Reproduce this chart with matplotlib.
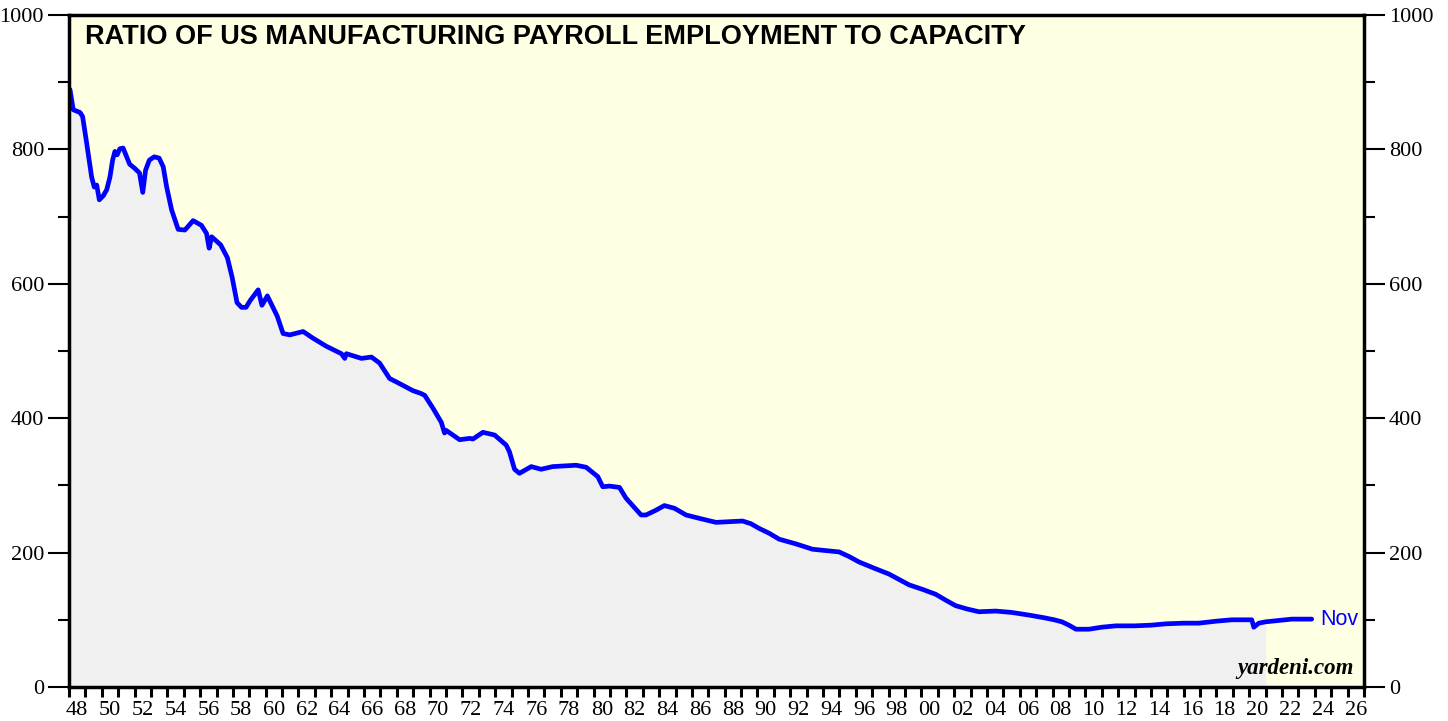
import numpy as np
import matplotlib.pyplot as plt
from matplotlib.ticker import FixedLocator, NullFormatter, FixedFormatter

# ratio of manufacturing payroll employment to capacity
years = [1948.06, 1948.26, 1948.67, 1948.83, 1949.08, 1949.38, 1949.54, 1949.69, 1949.85,
         1950.09, 1950.30, 1950.50, 1950.66, 1950.80, 1950.94, 1951.10, 1951.30, 1951.70,
         1952.00, 1952.30, 1952.50, 1952.67, 1952.90, 1953.20, 1953.50, 1953.75, 1953.95,
         1954.26, 1954.66, 1955.07, 1955.57, 1956.08, 1956.39, 1956.55, 1956.70, 1957.25,
         1957.66, 1957.95, 1958.25, 1958.52, 1958.80, 1959.05, 1959.54, 1959.77, 1960.10,
         1960.70, 1961.06, 1961.47, 1962.28, 1962.89, 1963.70, 1964.62, 1964.82, 1964.92,
         1965.84, 1966.45, 1966.95, 1967.56, 1967.97, 1968.98, 1969.45, 1969.70, 1970.20,
         1970.71, 1970.91, 1971.00, 1971.83, 1972.44, 1972.64, 1973.25, 1973.96, 1974.67,
         1974.87, 1975.18, 1975.48, 1976.20, 1976.80, 1977.51, 1978.94, 1979.55, 1980.26,
         1980.56, 1980.97, 1981.58, 1981.98, 1982.90, 1983.20, 1983.80, 1984.32, 1984.93,
         1985.64, 1986.45, 1987.47, 1988.28, 1989.09, 1989.60, 1990.10, 1990.70, 1991.32,
         1992.34, 1993.36, 1994.20, 1994.98, 1995.60, 1996.20, 1997.10, 1998.03, 1999.25,
         2000.10, 2000.87, 2001.50, 2002.09, 2002.80, 2003.51, 2004.53, 2005.50, 2006.56,
         2007.50, 2008.10, 2008.57, 2009.00, 2009.43, 2010.22, 2011.00, 2011.86, 2013.00,
         2014.00, 2014.91, 2016.00, 2016.92, 2018.00, 2018.93, 2020.15, 2020.28, 2020.58,
         2021.00, 2021.80, 2022.59, 2023.81]
ratio = [889, 859, 855, 849, 809, 759, 744, 747, 725,
         731, 740, 759, 784, 797, 792, 801, 802, 778,
         772, 765, 736, 769, 784, 789, 787, 774, 745,
         710, 681, 680, 694, 687, 675, 653, 670, 658,
         639, 610, 572, 565, 565, 575, 591, 568, 582,
         552, 526, 524, 529, 519, 507, 496, 489, 496,
         489, 491, 482, 459, 454, 441, 437, 434, 415,
         394, 378, 382, 368, 370, 369, 379, 375, 360,
         350, 324, 318, 328, 324, 328, 330, 327, 313,
         298, 299, 297, 281, 256, 256, 263, 270, 266,
         256, 251, 245, 246, 247, 243, 236, 229, 220,
         213, 205, 203, 201, 194, 186, 177, 168, 152,
         145, 138, 129, 121, 116, 112, 113, 111, 107,
         103, 100, 97, 92, 86, 86, 89, 91, 91,
         92, 94, 95, 95, 98, 100, 100, 89, 95,
         97, 99, 101, 101]

fill_end = 2021.0  # grey shading stops here
year_ticks = list(range(1948, 2028))
label_years = list(range(1948, 2027, 2))
year_labels = ['%02d' % (y % 100) for y in label_years]
y_major = [0, 200, 400, 600, 800, 1000]

years = np.array(years)
ratio = np.array(ratio)

fig = plt.figure(figsize=(14.48, 7.21), dpi=100)
ax = fig.add_axes([69/1448, 1 - 687/721, (1364 - 69)/1448, (687 - 15)/721])
ax.set_facecolor('#FFFFE3')

ax.fill_between(years, 0, ratio, where=years <= fill_end, color='#F0F0F0', lw=0, zorder=1)
ax.plot(years, ratio, color='#0000FF', lw=3.4, zorder=3, solid_joinstyle='round',
        solid_capstyle='round')
ax.text(years[-1] + 0.5, ratio[-1], 'Nov', color='#0000FF', fontsize=15.5,
        family='Liberation Sans', va='center', ha='left')

ax.set_xlim(1948, 2027)
ax.set_ylim(0, 1000)

# x axis: ticks every year, labels centred in the year
ax.xaxis.set_major_locator(FixedLocator(year_ticks))
ax.xaxis.set_major_formatter(NullFormatter())
ax.xaxis.set_minor_locator(FixedLocator([y + 0.5 for y in label_years]))
ax.xaxis.set_minor_formatter(FixedFormatter(year_labels))
ax.tick_params(axis='x', which='major', direction='out', length=7, width=2.2, color='black')
ax.tick_params(axis='x', which='minor', length=0, pad=10, labelsize=16)

# y axis on both sides
ax.set_yticks(y_major)
ax.set_yticks(range(100, 1000, 200), minor=True)
ax.tick_params(axis='y', which='major', direction='out', length=15, width=1.5,
               left=True, right=True, labelleft=True, labelright=True, labelsize=16, pad=3)
ax.tick_params(axis='y', which='minor', direction='out', length=8, width=1.5,
               left=True, right=True)

for lab in ax.get_xticklabels(minor=True) + ax.get_yticklabels():
    lab.set_family('Liberation Serif')

for sp in ax.spines.values():
    sp.set_linewidth(2.5)
    sp.set_color('black')
    sp.set_zorder(5)

ax.text(0.012, 0.986, 'RATIO OF US MANUFACTURING PAYROLL EMPLOYMENT TO CAPACITY',
        transform=ax.transAxes, fontsize=19.5, fontweight='bold', family='Liberation Sans',
        va='top', ha='left')
ax.text(0.992, 0.012, 'yardeni.com', transform=ax.transAxes, fontsize=16.5,
        fontweight='bold', style='italic', family='Liberation Serif', ha='right', va='bottom')

plt.savefig('out.png', dpi=100)
